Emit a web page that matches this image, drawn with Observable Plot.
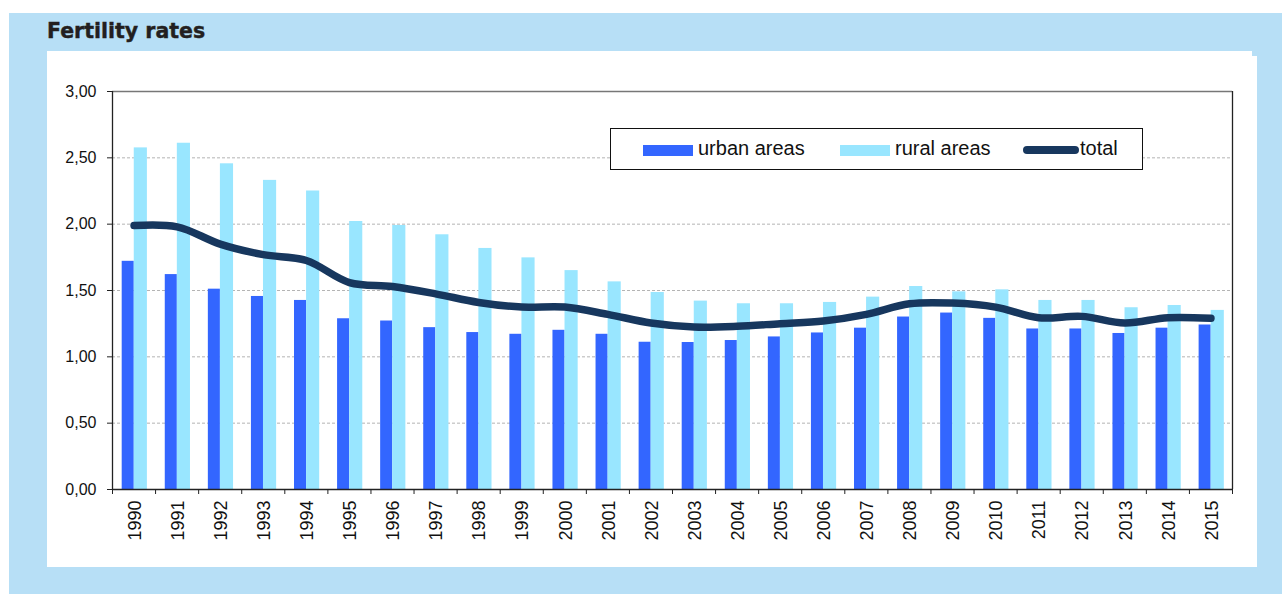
<!DOCTYPE html>
<html>
<head>
<meta charset="utf-8">
<script src="https://cdn.jsdelivr.net/npm/d3@7"></script>
<script src="https://cdn.jsdelivr.net/npm/@observablehq/plot@0.6"></script>
<style>
  html, body { margin: 0; padding: 0; background: #ffffff; }
  body { width: 1282px; height: 594px; position: relative; overflow: hidden; font-family: "Liberation Sans", Arial, sans-serif; }
  #outer { position: absolute; left: 9px; top: 13px; width: 1273px; height: 581px; background: #b7dff6; }
  #title { position: absolute; left: 47px; top: 19px; font-family: "DejaVu Sans", sans-serif; font-weight: bold; font-size: 20.5px; color: #231f20; -webkit-text-stroke: 0.4px #231f20; }
  #panel2 { position: absolute; left: 52px; top: 56px; width: 1205px; height: 511px; background: #ffffff; }
  #panel { position: absolute; left: 47px; top: 51px; width: 1205px; height: 516px; background: #ffffff; }
  #legend { position: absolute; left: 563px; top: 77px; width: 531px; height: 40px; border: 1px solid #111; background: #fff; }
  .sw { position: absolute; top: 16px; width: 50px; height: 11px; }
  .lt { position: absolute; top: 7px; font-size: 20px; color: #111; line-height: 24px; }
  .ln { position: absolute; top: 17px; width: 56px; height: 8px; border-radius: 4px; background: #17375e; }
</style>
</head>
<body>
<div id="outer"></div>
<div id="title">Fertility rates</div>
<div id="panel2"></div>
<div id="panel">
  <div id="chart"></div>
  <div id="legend"></div>
</div>
<script>
const years = [1990,1991,1992,1993,1994,1995,1996,1997,1998,1999,2000,2001,2002,2003,2004,2005,2006,2007,2008,2009,2010,2011,2012,2013,2014,2015];
const urban = [1.72,1.62,1.51,1.455,1.425,1.287,1.27,1.22,1.183,1.17,1.20,1.17,1.11,1.108,1.123,1.15,1.18,1.216,1.30,1.33,1.29,1.21,1.21,1.176,1.216,1.24];
const rural = [2.575,2.61,2.455,2.33,2.25,2.02,1.99,1.92,1.817,1.746,1.65,1.565,1.485,1.42,1.40,1.40,1.41,1.45,1.53,1.49,1.505,1.425,1.425,1.37,1.387,1.35];
const total = [1.99,1.98,1.85,1.77,1.726,1.56,1.53,1.475,1.41,1.375,1.375,1.32,1.255,1.225,1.23,1.25,1.27,1.32,1.40,1.405,1.375,1.295,1.305,1.255,1.295,1.29];
const yTicks = [0,0.5,1,1.5,2,2.5,3];
const seriesNames = ["urban areas","rural areas","total"];
const seriesColors = ["#3366ff","#99e6ff","#17375e"];

const data = years.map((year, i) => ({year, urban: urban[i], rural: rural[i], total: total[i]}));
const boundaries = [years[0] - 0.5, ...years.map(y => y + 0.5)];
const fmt = d => d.toFixed(2).replace(".", ",");

const chart = Plot.plot({
  width: 1205,
  height: 516,
  marginLeft: 65,
  marginRight: 20,
  marginTop: 40,
  marginBottom: 78,
  x: {domain: [years[0] - 0.5, years[years.length - 1] + 0.5], axis: null},
  y: {domain: [0, 3], axis: null},
  style: {fontFamily: "'Liberation Sans', Arial, sans-serif", background: "transparent", overflow: "visible", color: "#111"},
  marks: [
    Plot.ruleY(yTicks.filter(t => t > 0 && t < 3), {stroke: "#b4b4b4", strokeDasharray: "3,2", strokeWidth: 1}),
    Plot.rectY(data, {x1: d => d.year - 0.275, x2: d => d.year + 0.005, y: "urban", fill: seriesColors[0]}),
    Plot.rectY(data, {x1: d => d.year + 0.005, x2: d => d.year + 0.31, y: "rural", fill: seriesColors[1]}),
    Plot.line(data, {x: "year", y: "total", stroke: seriesColors[2], strokeWidth: 7.5, curve: "catmull-rom", strokeLinecap: "round", strokeLinejoin: "round"}),
    Plot.ruleY([3], {stroke: "#777", strokeWidth: 1.5}),
    Plot.ruleX([years[0] - 0.5, years[years.length - 1] + 0.5], {stroke: "#222", strokeWidth: 1.3}),
    Plot.ruleY([0], {stroke: "#222", strokeWidth: 1.5}),
    Plot.axisY(yTicks, {tickSize: 5, tickPadding: 11, tickFormat: fmt, fontSize: 16, stroke: "#222", label: null}),
    Plot.axisX(boundaries, {tickSize: 5, tickFormat: () => "", stroke: "#222", label: null}),
    Plot.text(data, {x: "year", y: () => 0, text: d => String(d.year), rotate: -90, textAnchor: "end", lineAnchor: "middle", dy: 11, dx: 1, fontSize: 18, fill: "#111"})
  ]
});
document.getElementById("chart").appendChild(chart);

const legend = document.getElementById("legend");
legend.innerHTML = `
  <div class="sw" style="left:32px;background:${seriesColors[0]}"></div>
  <div class="lt" style="left:87px">${seriesNames[0]}</div>
  <div class="sw" style="left:229px;background:${seriesColors[1]}"></div>
  <div class="lt" style="left:284px">${seriesNames[1]}</div>
  <div class="ln" style="left:412px;background:${seriesColors[2]}"></div>
  <div class="lt" style="left:469px">${seriesNames[2]}</div>
`;
</script>
</body>
</html>
